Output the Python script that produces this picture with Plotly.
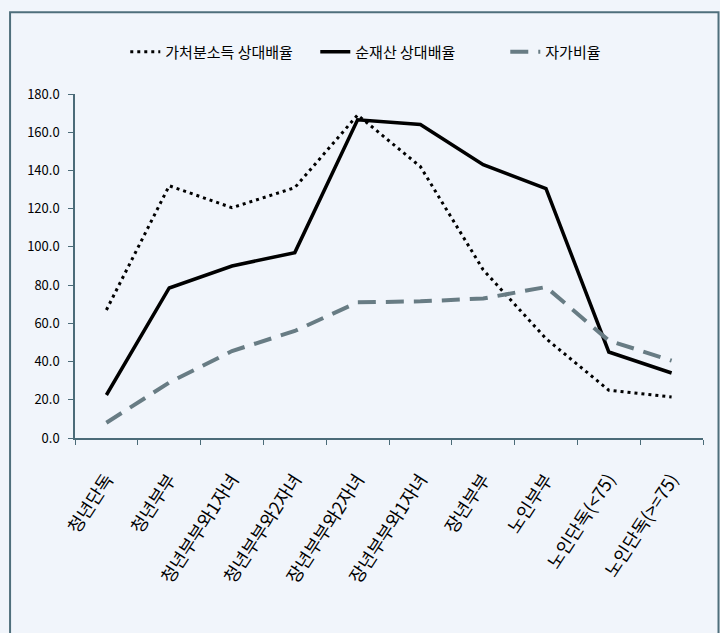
import plotly.graph_objects as go

# Household types (x-axis categories)
categories = [
    "청년단독", "청년부부", "청년부부와1자녀", "청년부부와2자녀", "장년부부와2자녀",
    "장년부부와1자녀", "장년부부", "노인부부", "노인단독(<75)", "노인단독(>=75)",
]

# Series values
disposable_income_ratio = [67, 132, 120.5, 131, 169, 142, 88, 52, 25, 21.5]
net_asset_ratio = [22.5, 78.5, 90, 97, 166.5, 164, 143, 130.5, 45, 34]
home_ownership_ratio = [8, 29, 45.5, 56, 71, 71.5, 73, 79, 51, 40.5]

series_names = ["가처분소득 상대배율", "순재산 상대배율", "자가비율"]

y_ticks = [0, 20, 40, 60, 80, 100, 120, 140, 160, 180]
y_tick_labels = [f"{v:.1f}" for v in y_ticks]

FONT = "Noto Sans CJK KR"
BG = "#f1f5fb"
AXIS = "#4b6b78"

fig = go.Figure()
fig.add_trace(go.Scatter(
    x=categories, y=disposable_income_ratio, name=series_names[0], mode="lines",
    line=dict(color="#000000", width=3, dash="3px,4px"),
))
fig.add_trace(go.Scatter(
    x=categories, y=net_asset_ratio, name=series_names[1], mode="lines",
    line=dict(color="#000000", width=3.5),
))
fig.add_trace(go.Scatter(
    x=categories, y=home_ownership_ratio, name=series_names[2], mode="lines",
    line=dict(color="#687c84", width=4, dash="18px,10px"),
))

# outer frame around the chart
fig.add_shape(
    type="rect", xref="paper", yref="paper",
    x0=-0.1034, x1=1.0247, y0=-0.62, y1=1.238,
    line=dict(color="#4f6f7c", width=2), fillcolor="rgba(0,0,0,0)", layer="below",
)

fig.update_layout(
    width=720, height=633,
    margin=dict(l=75, r=16.5, t=94, b=195),
    paper_bgcolor=BG, plot_bgcolor=BG,
    font=dict(family=FONT, color="#000000"),
    showlegend=True,
    legend=dict(
        orientation="h", xref="container", yref="container",
        x=0.174, xanchor="left", y=1 - 52 / 633, yanchor="middle",
        font=dict(size=15, family=FONT), bgcolor="rgba(0,0,0,0)",
        traceorder="normal", entrywidth=145, entrywidthmode="pixels",
    ),
    xaxis=dict(
        type="category", showgrid=False, zeroline=False,
        showline=True, linecolor=AXIS, linewidth=1.5,
        ticks="outside", tickson="boundaries", ticklen=5, tickcolor=AXIS,
        tickangle=-57, tickfont=dict(size=18, family=FONT),
        ticklabelstandoff=22,
        range=[-0.5, 9.5],
    ),
    yaxis=dict(
        range=[0, 180], tickvals=y_ticks, ticktext=y_tick_labels,
        showgrid=False, zeroline=False,
        showline=True, linecolor=AXIS, linewidth=1.5,
        ticks="outside", ticklen=5, tickcolor=AXIS,
        tickfont=dict(size=13, family=FONT),
        ticklabelstandoff=6,
    ),
)

fig.write_html("out.html")
